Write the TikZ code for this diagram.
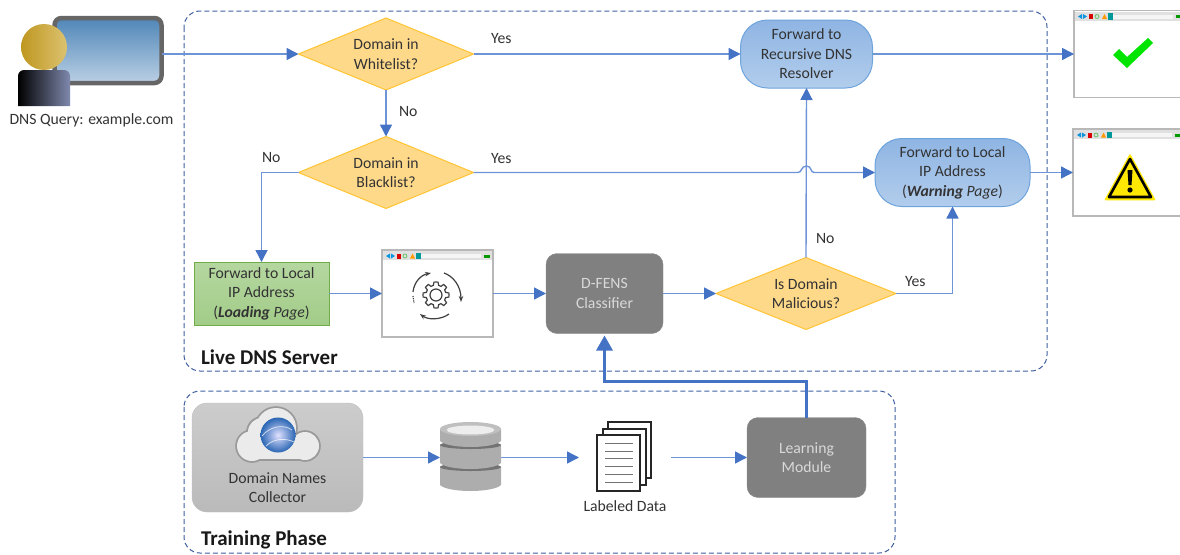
\documentclass[tikz,border=0pt]{standalone}
\usepackage{fontspec}
\setmainfont{Carlito}
\usepackage{tikz}
\usetikzlibrary{positioning,arrows.meta,shapes.geometric}

\definecolor{tipblue}{HTML}{4472C4}
\definecolor{wireblue}{HTML}{6E94D8}
\definecolor{zoneblue}{HTML}{3F5F9F}
\definecolor{txtgray}{HTML}{333333}
\definecolor{bodyblue}{HTML}{7F89AD}
\definecolor{diafill}{HTML}{FFD98A}
\definecolor{diadraw}{HTML}{FFC433}
\definecolor{restop}{HTML}{8FB5E3}
\definecolor{resbot}{HTML}{B2CDEC}
\definecolor{resdraw}{HTML}{6FA3DC}
\definecolor{loadtop}{HTML}{B5D7A0}
\definecolor{loadbot}{HTML}{A2CC88}
\definecolor{loaddraw}{HTML}{70AD47}
\definecolor{screentop}{HTML}{4F86B8}
\definecolor{screenbot}{HTML}{BBD0E4}
\definecolor{headgold}{HTML}{BF9720}
\definecolor{headpale}{HTML}{DCC270}
\definecolor{globeblue}{HTML}{2A66B4}

\newcommand{\pagebar}[1]{%
  \begin{scope}[shift={(#1.north west)}]
    \fill[black!12] (1,1) rectangle (110,10);
    \fill[cyan!80!blue] (4,6) -- (8,3.5) -- (8,8.5) -- cycle;
    \fill[cyan!80!blue] (13,6) -- (9,3.5) -- (9,8.5) -- cycle;
    \fill[red!85!black] (14.5,3.5) rectangle (19,8.5);
    \draw[green!60!black!60,line width=0.8] (23,6) circle (2);
    \fill[orange!80!yellow] (28,8.5) -- (30.5,3.5) -- (33,8.5) -- cycle;
    \fill[teal!80!cyan] (34,2.5) rectangle (39,9);
    \fill[black!4] (39,4) rectangle (99,8);
    \fill[green!60!black] (102,4.5) rectangle (108,7.5);
  \end{scope}}

\begin{document}
\begin{tikzpicture}[x=1pt,y=-1pt,node distance=53pt,>={Triangle[length=12pt,width=12pt,color=tipblue]},
  every node/.style={font=\fontsize{15.7}{19.5}\selectfont,text=txtgray,align=center,outer sep=0}]

  \tikzstyle{zone}=[draw=zoneblue,line width=1,dash pattern=on 5pt off 3pt,rounded corners=16]
  \tikzstyle{flow}=[->,draw=wireblue,line width=1.4]
  \tikzstyle{feedback}=[-{Triangle[length=15pt,width=16pt,color=tipblue]},draw=tipblue,line width=3,shorten >=2pt]
  \tikzstyle{decision}=[diamond,aspect=2.4,inner sep=0,draw=diadraw,line width=1,fill=diafill,minimum width=175,minimum height=72]
  \tikzstyle{resolver}=[draw=resdraw,line width=1,rounded corners=27,top color=restop,bottom color=resbot,minimum height=68]
  \tikzstyle{engine}=[draw=black!45,fill=black!50,rounded corners=11,text=black!15,minimum width=117,minimum height=80]
  \tikzstyle{page}=[draw=black!28,line width=1.4,fill=white,minimum width=111,minimum height=87]
  \tikzstyle{note}=[inner sep=0]
  \tikzstyle{zonetitle}=[inner sep=0,anchor=west,font=\fontsize{21}{24}\selectfont\bfseries,text=black!90]

  \useasboundingbox (0,0) rectangle (1180,554);
  \clip (0,0) rectangle (1180,554);

  \draw[zone] (184,11) rectangle (1047,371);
  \draw[zone] (184,391) rectangle (895,553);
  \node[zonetitle] (livetitle) at (201,357) {Live DNS Server};
  \node[zonetitle] (traintitle) at (201,540) {Training Phase};

  % user at the screen
  \node[draw=black!60,line width=4.5,rounded corners=7,top color=screentop,bottom color=screenbot,minimum width=107,minimum height=65] (screen) at (108,50.5) {};
  \shade[left color=headgold,middle color=headgold,right color=headpale] (44,47) circle (23);
  \path[left color=black,middle color=black,right color=bodyblue] (18,106) {[rounded corners=6] -- (18,70) -- (70,70)} -- (70,106) -- cycle;
  \node (query) at (91.5,120.5) {DNS Query: example.com};

  % decisions and resolvers
  \node[decision] (white) at (386,54) {Domain in\\Whitelist?};
  \node[decision,below=46.5pt of white] (black) {Domain in\\Blacklist?};
  \node[resolver,minimum width=132,right=267pt of white] (recursive) {Forward to\\Recursive DNS\\Resolver};
  \node[resolver,minimum width=155] (warning) at (952.5,172.5) {Forward to Local\\IP Address\\(\textbf{\textit{Warning}} \textit{Page})};

  % classification row
  \node[draw=loaddraw,line width=1,top color=loadtop,bottom color=loadbot,minimum width=135,minimum height=63] (forward) at (261.5,293.5) {Forward to Local\\IP Address\\(\textbf{\textit{Loading}} \textit{Page})};
  \node[page,right=of forward] (pageload) {};
  \node[engine,right=of pageload] (dfens) {D-FENS\\Classifier};
  \node[decision,minimum width=180,right=of dfens] (malicious) {Is Domain\\Malicious?};

  % result pages
  \node[page] (pageok) at (1129.5,54) {};
  \node[page] (pagewarn) at (1128.5,172.5) {};
  \pagebar{pageload}
  \pagebar{pageok}
  \pagebar{pagewarn}

  \fill[green!90!black] (1113,55) -- (1127,68) -- (1153,43) -- (1148,38) -- (1127,57) -- (1119,49) -- cycle;
  \draw[draw=yellow!90!orange,line width=1.5,line join=round,fill=yellow!90!orange] (1130,155) -- (1105.5,199.5) -- (1154.5,199.5) -- cycle;
  \draw[black,line width=2.6,line join=round] (1130,159) -- (1109,197) -- (1151,197) -- cycle;
  \fill[black] (1127.5,170) -- (1132.5,170) -- (1131.5,185) -- (1128.5,185) -- cycle;
  \fill[black] (1130,190) circle (2.6);

  % gear on the loading page
  \draw[black!75,line width=1.2,fill=white,shift={(436,295)}] (0:13) \foreach \a in {0,45,...,315} {-- (\a+9:13) -- (\a+15:10) -- (\a+30:10) -- (\a+36:13) -- (\a+45:13)} -- cycle;
  \draw[black!75,line width=1.2] (436,295) circle (6);
  \draw[black!75,line width=1.2,-{Stealth[length=6pt]}] (413,292) .. controls (414,282) and (421,275) .. (431,273);
  \draw[black!75,line width=1.2,-{Stealth[length=6pt]}] (444,273) .. controls (453,276) and (461,286) .. (461,302);
  \draw[black!75,line width=1.2,-{Stealth[length=6pt]}] (449,314) .. controls (441,320) and (428,320) .. (420,314);
  \draw[black!75,line width=1.2,densely dotted] (413,296) -- (414,303);

  % training row
  \node[draw=black!25,rounded corners=15,top color=black!20,bottom color=black!27,minimum width=171,minimum height=109] (collector) at (277.5,457.5) {};
  \foreach \px/\py/\pr in {252/446/15,262/432/14,276/428/20,305/446/14}
    \fill[black!40] (\px,\py) circle (\pr+1.8);
  \fill[black!40] (250,444) rectangle (306,461);
  \foreach \px/\py/\pr in {252/446/15,262/432/14,276/428/20,305/446/14}
    \fill[black!8] (\px,\py) circle (\pr);
  \fill[black!8] (250,444) rectangle (306,458.5);
  \shade[inner color=blue!12!white,outer color=globeblue] (278,435) circle (17.5);
  \draw[white,line width=0.8,opacity=0.7] (262,436) .. controls (270,426) and (284,424) .. (292,430);
  \draw[white,line width=0.8,opacity=0.7] (266,446) .. controls (274,438) and (286,438) .. (294,442);
  \node[note] (collectortext) at (277.5,487.5) {Domain Names\\Collector};

  \node[minimum width=61,minimum height=71,inner sep=0,right=77pt of collector] (store) {};
  \foreach \t/\h/\r/\topc in {467/18/4/black!55,445/18/4/black!55,429/12/7/black!25} {
    \path[left color=black!32,middle color=black!4,right color=black!32] (440,\t) -- (440,\t+\h) .. controls (448,\t+\h+8) and (493,\t+\h+8) .. (501,\t+\h) -- (501,\t) -- cycle;
    \fill[\topc] (470.5,\t) ellipse [x radius=30.5,y radius=\r];
  }
  \fill[black!7] (470.5,430) ellipse [x radius=24,y radius=4.5];

  \node[minimum width=92,minimum height=71,inner sep=0,right=78pt of store] (docs) {};
  \foreach \dx/\dy in {608/422,603/429,597/435}
    \draw[black!85,line width=1.2,fill=white] (\dx,\dy) rectangle ++(43,56);
  \foreach \ly in {443,451,458,466,474,482}
    \draw[black!55,line width=1] (605,\ly) -- (633,\ly);
  \node[note,below=8pt of docs] (docstext) {Labeled Data};

  \node[engine,minimum width=119,right=76pt of docs] (learning) {Learning\\Module};

  % connectors
  \draw[flow] (screen.east |- white.west) -- (white.west);
  \draw[flow] (white.east) -- (recursive.west);
  \draw[flow] (recursive.east) -- (pageok.west);
  \draw[flow] (white.south) -- (black.north);

  \coordinate (jumpa) at (798,172.5);
  \coordinate (jumpb) at (814,172.5);
  \draw[flow] (black.east) -- (jumpa) .. controls (802,172.5) and (801,166) .. (806.5,166) .. controls (812,166) and (810,172.5) .. (jumpb) -- (warning.west);
  \draw[flow] (black.west) -| (forward.north);
  \draw[flow] (forward.east) -- (pageload.west);
  \draw[flow] (pageload.east) -- (dfens.west);
  \draw[flow] (dfens.east) -- (malicious.west);
  \draw[flow] (malicious.north) -- (recursive.south);
  \draw[flow] (malicious.east) -| (warning.south);
  \draw[flow] (warning.east) -- (pagewarn.west);

  \draw[flow] (collector.east) -- (store.west);
  \draw[flow] (store.east) -- (docs.west);
  \draw[flow] (docs.east) -- (learning.west);
  \draw[feedback] (learning.north) -- ++(0,-36.5) -| (dfens.south);

  % branch labels
  \node[note,right=17.5pt of white.east,yshift=15.5pt] (yeswhite) {Yes};
  \node[note,right=13pt of white.south,yshift=-22pt] (nowhite) {No};
  \node[note,right=17.5pt of black.east,yshift=14pt] (yesblack) {Yes};
  \node[note,left=18pt of black.west,yshift=15pt] (noblack) {No};
  \node[note,right=10pt of malicious.north,yshift=19pt] (nomal) {No};
  \node[note,right=9pt of malicious.east,yshift=12pt] (yesmal) {Yes};

\end{tikzpicture}
\end{document}
